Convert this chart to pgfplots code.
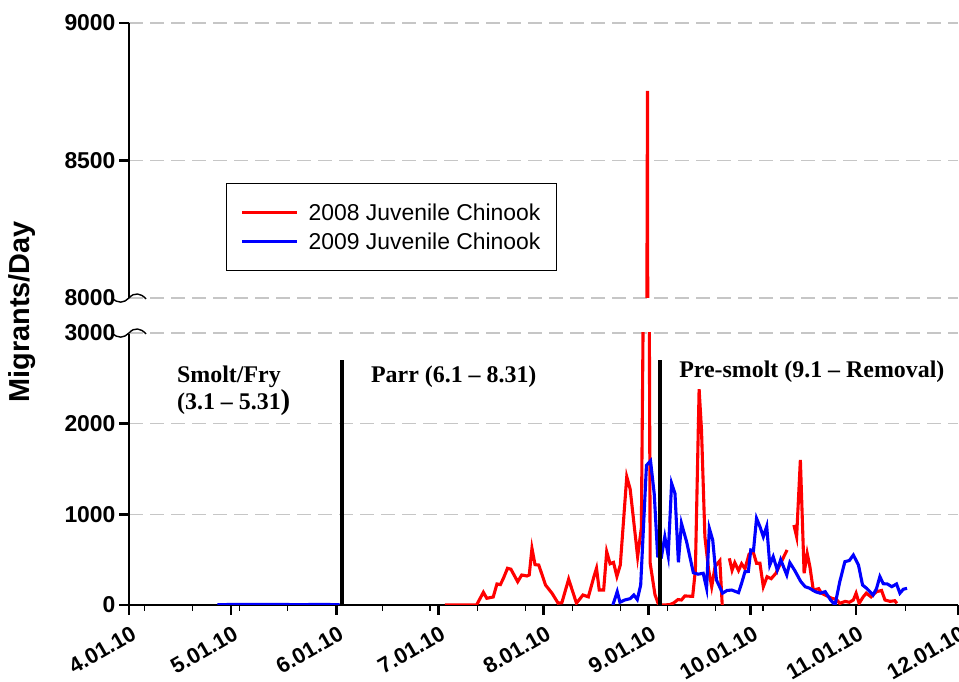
\documentclass[border=0pt]{standalone}
\usepackage{fontspec}
\setmainfont{Liberation Sans}
\newfontfamily\timesfont{Liberation Serif}
\usepackage{pgfplots}
\usepackage{pgfplotstable}
\pgfplotsset{compat=1.18}

% days counted from 1 April 2010
\pgfplotstableread{
d v
93 0
102.3 0
104.3 140
105.3 74
107.2 88
108.3 232
109.3 225
110.2 294
111.4 405
112.4 395
114.4 257
115.6 331
117.1 320
117.8 331
118.6 625
119.5 445
120.6 441
122.6 220
124.5 130
126.3 20
127.4 25
129.4 285
131.7 20
133.6 110
135.2 90
136.9 320
137.6 405
138.4 165
139.7 165
140.6 588
141.6 455
142.6 470
143.6 315
144.6 441
146.5 1415
147.5 1280
149.7 533
150.8 850
152.6 8753
153.4 460
154.8 115
155.9 0
157.5 0
159.2 5
160.2 20
161.6 60
162.6 55
163.6 100
165.9 95
166.7 386
167.8 2380
168.5 1930
169.5 753
170.6 386
171.5 202
172.5 423
173.9 489
174.6 0
175.5 nan
176.7 515
177.5 383
178.3 467
179.4 380
180.3 455
181.3 400
182.5 560
183.7 588
184.7 460
185.7 460
186.7 202
187.8 312
189.0 290
190.4 350
192.0 478
193.7 607
194.7 nan
195.7 882
196.5 753
197.6 1600
198.7 350
199.6 570
200.4 423
201.4 165
203.0 180
203.8 130
205.4 100
206.8 74
208.2 62
209.2 18
210.8 40
212.0 30
213.2 55
214.0 130
214.9 18
216.1 90
217.0 130
218.4 90
220.0 147
221.5 160
222.5 55
224.0 40
225.4 47
226.0 18
}\redtab

\pgfplotstableread{
d v
26 4
32 6
38 5
44 6
50 4
56 6
62 4
100 nan
142.4 0
143.7 147
144.5 30
145.9 55
147.5 70
148.6 110
149.6 60
150.6 220
152.3 1540
153.5 1590
154.6 1220
155.6 540
156.7 530
157.7 753
158.7 545
159.7 1342
160.7 1230
161.7 470
162.6 900
164.1 700
166.1 356
167.5 340
169.0 350
170.0 184
170.8 846
171.8 717
172.9 276
174.7 130
176.0 160
177.4 165
179.4 136
180.3 239
181.3 367
182.3 370
183.0 607
183.8 600
184.7 956
185.7 864
186.7 753
187.7 868
188.6 441
189.6 533
190.8 386
191.8 500
193.6 331
194.5 467
196.0 377
197.7 260
199.0 202
200.3 185
202.0 147
203.4 130
204.9 147
206.5 55
207.8 0
209.2 257
210.7 478
212.0 490
213.2 551
214.7 441
215.9 220
217.1 184
219.0 110
220.0 180
221.0 313
222.0 235
223.2 232
224.5 202
225.9 232
226.9 130
227.9 174
229.0 184
}\bluetab

\pgfplotsset{
  chinook/.style={
    scale only axis, width=829bp,
    xmin=0, xmax=244,
    axis y line*=left,
    y axis line style={-, line width=1.4bp},
    tick align=outside,
    major tick length=10bp, minor tick length=6bp,
    major tick style={black, line width=2.8bp},
    minor tick style={black, line width=1.1bp},
    ymajorgrids=true,
    grid style={gray!45, line width=1.1bp, dash pattern=on 14bp off 7bp},
    yticklabel style={font=\fontsize{23}{23}\selectfont\bfseries},
    /pgf/number format/assume math mode=true,
    /pgf/number format/set thousands separator={},
    unbounded coords=jump,
  },
}
\tikzset{
  wave/.style={black, line width=1.4bp},
  period/.style={anchor=base west, inner sep=0pt, font=\timesfont\bfseries\fontsize{24}{24}\selectfont},
}

\begin{document}
\begin{tikzpicture}[x=1bp, y=1bp]
\path[use as bounding box] (0,0) rectangle (959,682);

% lower panel: 0 - 3000
\begin{axis}[chinook,
  at={(129bp,77bp)}, anchor=south west, height=272bp,
  ymin=0, ymax=3000,
  axis x line*=bottom,
  x axis line style={-, line width=2.2bp},
  ytick={0,1000,2000},
  extra y ticks={3000},
  extra y tick style={grid=major, major tick style={draw=none}},
  xtick={0,30,61,91,122,153,183,214,244},
  xticklabels={4.01.10,5.01.10,6.01.10,7.01.10,8.01.10,9.01.10,10.01.10,11.01.10,12.01.10},
  minor xtick={4.6,18.6,32.6,46.6,74.6,88.6,102.6,116.6,130.6,144.6,158.6,172.6,186.6,200.6,228.6},
  xticklabel style={rotate=30, anchor=north east, inner sep=0pt, yshift=-9bp, xshift=-4bp,
    font=\fontsize{22}{22}\selectfont\bfseries},
]
\addplot[red, line width=3.1bp] table[x=d, y=v] {\redtab};
\addplot[blue, line width=3.1bp] table[x=d, y=v] {\bluetab};
% period boundaries
\addplot[black, line width=3.6bp] coordinates {(62.7,0) (62.7,2700)};
\addplot[black, line width=3.6bp] coordinates {(156.3,0) (156.3,2700)};
\node[period] at (axis cs:14.1,2449) {Smolt/Fry};
\node[period] at (axis cs:14.1,2151) {(3.1 – 5.31{\fontsize{29}{29}\selectfont )}};
\node[period] at (axis cs:71.2,2449) {Parr (6.1 – 8.31)};
\node[period] at (axis cs:161.9,2504) {Pre-smolt (9.1 – Removal)};
\end{axis}

% upper panel: 8000 - 9000
\begin{axis}[chinook,
  at={(129bp,384bp)}, anchor=south west, height=275bp,
  ymin=8000, ymax=9000,
  axis x line=none,
  ytick={8500,9000},
  extra y ticks={8000},
  extra y tick style={grid=major, major tick style={draw=none}},
  legend style={at={(0.117,0.418)}, anchor=north west, draw=black, line width=1.1bp,
    font=\fontsize{23}{23}\selectfont, inner xsep=14bp, inner ysep=18bp, row sep=7bp,
    cells={anchor=west}},
  legend image code/.code={\draw[#1] (0bp,0bp) -- (55bp,0bp); \path (63bp,0bp);},
]
\addplot[red, line width=3.1bp, forget plot] table[x=d, y=v] {\redtab};
\addlegendimage{red, line width=3.1bp}
\addlegendentry{2008 Juvenile Chinook}
\addlegendimage{blue, line width=3.1bp}
\addlegendentry{2009 Juvenile Chinook}
\end{axis}

% axis break marks
\draw[wave] (112,384) .. controls (118,378) and (124,379) .. (129,384) .. controls (134,390) and (141,389) .. (146,383);
\draw[wave] (112,349) .. controls (118,343) and (124,344) .. (129,349) .. controls (134,355) and (141,354) .. (146,348);

\node[rotate=90, font=\fontsize{29}{29}\selectfont\bfseries] at (22,370) {Migrants/Day};
\end{tikzpicture}
\end{document}
